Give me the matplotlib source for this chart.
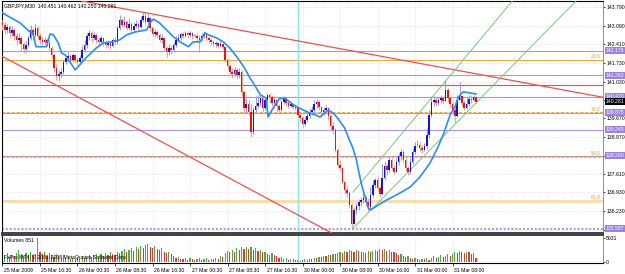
import numpy as np
import matplotlib
matplotlib.use('Agg')
import matplotlib.pyplot as plt
import matplotlib.transforms as mtransforms

plt.rcParams['font.family'] = ['Liberation Sans', 'DejaVu Sans']
FS = 3.7
plt.rcParams['font.size'] = FS

# GBPJPY M30 candles
open_ = [143.24, 143.12, 142.94, 143.05, 142.83, 142.94, 142.72, 142.57, 142.64, 142.42,
         142.24, 142.39, 142.64, 142.94, 142.76, 143.01, 142.72, 142.57, 142.50, 142.57,
         142.46, 142.27, 142.02, 141.53, 141.24, 141.31, 141.39, 141.76, 141.90, 141.98,
         141.83, 142.02, 141.83, 141.76, 141.90, 142.20, 142.39, 142.72, 142.83, 142.64,
         142.76, 142.57, 142.50, 142.64, 142.50, 142.39, 142.46, 142.35, 142.57, 142.50,
         143.01, 143.31, 143.12, 143.24, 143.01, 143.16, 142.94, 143.09, 143.16, 143.05,
         143.31, 143.46, 143.24, 143.38, 143.01, 142.79, 142.87, 142.76, 142.57, 142.64,
         142.27, 142.13, 142.27, 142.20, 142.39, 142.57, 142.64, 142.79, 142.72, 142.83,
         142.76, 142.83, 142.72, 142.72, 142.64, 142.57, 142.72, 142.79, 142.64, 142.57,
         142.50, 142.42, 142.46, 142.35, 142.42, 142.31, 141.83, 141.61, 141.39, 141.31,
         141.46, 141.28, 141.39, 140.65, 140.05, 140.20, 139.91, 139.17, 139.98, 140.13,
         140.24, 140.42, 140.05, 140.35, 140.54, 140.46, 140.24, 140.35, 140.13, 139.98,
         140.28, 140.42, 140.24, 140.13, 140.20, 140.09, 140.05, 139.80, 139.68, 139.46,
         139.61, 139.76, 139.91, 139.98, 140.20, 140.28, 140.09, 139.91, 139.98, 140.05,
         139.76, 139.39, 139.24, 138.50, 137.95, 137.83, 137.32, 137.02, 136.91, 136.47,
         135.76, 136.28, 136.43, 136.58, 136.65, 136.72, 136.58, 136.39, 136.84, 137.21,
         137.39, 137.09, 136.87, 137.46, 137.91, 137.76, 138.13, 137.83, 137.69, 138.06,
         138.28, 138.43, 138.13, 137.83, 137.69, 138.06, 138.43, 138.69, 138.69, 138.57,
         138.50, 138.65, 139.06, 139.80, 140.28, 140.35, 140.24, 140.35, 140.42, 140.31,
         140.72, 140.42, 140.20, 139.98, 139.76, 140.35, 140.50, 140.24, 140.05, 140.20,
         140.39, 140.35, 140.451]
high = [143.31, 143.24, 143.16, 143.12, 143.09, 143.01, 142.83, 142.83, 142.72, 142.50,
        142.53, 142.76, 143.12, 143.01, 143.16, 143.09, 142.83, 142.68, 142.68, 142.64,
        142.57, 142.35, 142.09, 141.68, 141.46, 141.53, 141.83, 142.02, 142.13, 142.05,
        142.09, 142.02, 141.90, 142.02, 142.35, 142.57, 142.83, 142.94, 142.90, 142.87,
        142.83, 142.68, 142.76, 142.68, 142.57, 142.57, 142.53, 142.64, 142.68, 143.12,
        143.50, 143.38, 143.46, 143.31, 143.38, 143.24, 143.24, 143.31, 143.24, 143.46,
        143.61, 143.57, 143.53, 143.42, 143.05, 142.98, 142.94, 142.83, 142.79, 142.68,
        142.35, 142.42, 142.39, 142.50, 142.72, 142.79, 142.87, 142.87, 142.90, 142.90,
        142.90, 142.87, 142.79, 142.83, 142.76, 142.83, 142.90, 142.87, 142.72, 142.64,
        142.57, 142.53, 142.50, 142.53, 142.46, 142.35, 141.90, 141.68, 141.53, 141.57,
        141.53, 141.53, 141.46, 140.72, 140.42, 140.35, 140.24, 140.09, 140.50, 140.54,
        140.61, 140.42, 140.46, 140.61, 140.61, 140.54, 140.50, 140.35, 140.20, 140.35,
        140.50, 140.46, 140.31, 140.31, 140.24, 140.20, 140.09, 139.87, 139.76, 139.72,
        139.91, 140.05, 140.13, 140.35, 140.39, 140.35, 140.13, 140.09, 140.17, 140.05,
        139.83, 139.54, 139.31, 138.57, 138.13, 137.83, 137.35, 137.17, 136.98, 136.54,
        136.39, 136.54, 136.69, 136.76, 136.91, 136.84, 136.72, 137.13, 137.39, 137.46,
        137.50, 137.17, 137.98, 138.06, 137.98, 138.24, 138.20, 137.95, 138.20, 138.39,
        138.54, 138.50, 138.20, 137.91, 138.20, 138.57, 138.80, 138.87, 138.80, 138.69,
        138.76, 139.31, 139.98, 140.50, 140.50, 140.46, 140.46, 140.54, 140.50, 141.09,
        140.79, 140.50, 140.28, 140.13, 140.54, 141.02, 140.54, 140.35, 140.50, 140.54,
        140.54, 140.54, 140.462]
low = [142.94, 142.79, 142.83, 142.64, 142.72, 142.57, 142.39, 142.46, 142.20, 142.09,
       142.13, 142.31, 142.57, 142.57, 142.68, 142.57, 142.42, 142.39, 142.42, 142.35,
       142.20, 141.90, 141.39, 141.09, 141.05, 141.16, 141.31, 141.68, 141.76, 141.72,
       141.76, 141.72, 141.65, 141.68, 141.83, 142.13, 142.27, 142.57, 142.50, 142.57,
       142.46, 142.39, 142.42, 142.35, 142.27, 142.31, 142.24, 142.31, 142.39, 142.42,
       142.94, 143.01, 143.05, 142.94, 142.94, 142.83, 142.87, 143.01, 142.94, 143.01,
       143.24, 143.12, 143.16, 142.90, 142.72, 142.68, 142.64, 142.50, 142.46, 142.20,
       141.94, 142.02, 142.05, 142.13, 142.31, 142.50, 142.57, 142.64, 142.68, 142.64,
       142.68, 142.61, 142.64, 142.50, 142.13, 142.53, 142.64, 142.53, 142.46, 142.39,
       142.35, 142.31, 142.27, 142.31, 142.24, 141.76, 141.46, 141.31, 141.16, 141.24,
       141.13, 141.16, 140.50, 139.87, 139.87, 139.80, 138.98, 139.09, 139.91, 140.05,
       140.13, 139.91, 139.98, 140.28, 140.24, 140.13, 140.05, 139.91, 139.87, 139.94,
       140.20, 140.13, 140.05, 140.09, 140.02, 139.98, 139.72, 139.54, 139.35, 139.39,
       139.54, 139.68, 139.83, 139.91, 140.05, 139.98, 139.76, 139.80, 139.87, 139.61,
       139.24, 139.09, 138.43, 137.83, 137.72, 137.24, 136.87, 136.76, 136.35, 135.60,
       135.76, 136.13, 136.28, 136.43, 136.54, 136.43, 136.21, 136.32, 136.76, 137.09,
       137.02, 136.76, 136.84, 137.39, 137.58, 137.69, 137.76, 137.61, 137.69, 137.95,
       138.13, 138.02, 137.72, 137.58, 137.61, 137.98, 138.35, 138.61, 138.46, 138.39,
       138.46, 138.54, 138.94, 139.72, 140.13, 140.13, 140.17, 140.24, 140.20, 140.31,
       140.28, 140.05, 139.87, 139.50, 139.72, 140.35, 140.13, 139.98, 140.02, 140.13,
       140.24, 140.31, 140.250]
close = [143.12, 142.94, 143.05, 142.83, 142.94, 142.72, 142.57, 142.64, 142.42, 142.24,
         142.39, 142.64, 142.94, 142.76, 143.01, 142.72, 142.57, 142.50, 142.57, 142.46,
         142.27, 142.02, 141.53, 141.24, 141.31, 141.39, 141.76, 141.90, 141.98, 141.83,
         142.02, 141.83, 141.76, 141.90, 142.20, 142.39, 142.72, 142.83, 142.64, 142.76,
         142.57, 142.50, 142.64, 142.50, 142.39, 142.46, 142.35, 142.57, 142.50, 143.01,
         143.31, 143.12, 143.24, 143.01, 143.16, 142.94, 143.09, 143.16, 143.05, 143.31,
         143.46, 143.24, 143.38, 143.01, 142.79, 142.87, 142.76, 142.57, 142.64, 142.27,
         142.13, 142.27, 142.20, 142.39, 142.57, 142.64, 142.79, 142.72, 142.83, 142.76,
         142.83, 142.72, 142.72, 142.64, 142.57, 142.72, 142.79, 142.64, 142.57, 142.50,
         142.42, 142.46, 142.35, 142.42, 142.31, 141.83, 141.61, 141.39, 141.31, 141.46,
         141.28, 141.39, 140.65, 140.05, 140.20, 139.91, 139.17, 139.98, 140.13, 140.24,
         140.42, 140.05, 140.35, 140.54, 140.46, 140.24, 140.35, 140.13, 139.98, 140.28,
         140.42, 140.24, 140.13, 140.20, 140.09, 140.05, 139.80, 139.68, 139.46, 139.61,
         139.76, 139.91, 139.98, 140.20, 140.28, 140.09, 139.91, 139.98, 140.05, 139.76,
         139.39, 139.24, 138.50, 137.95, 137.83, 137.32, 137.02, 136.91, 136.47, 135.76,
         136.28, 136.43, 136.58, 136.65, 136.72, 136.58, 136.39, 136.84, 137.21, 137.39,
         137.09, 136.87, 137.46, 137.91, 137.76, 138.13, 137.83, 137.69, 138.06, 138.28,
         138.43, 138.13, 137.83, 137.69, 138.06, 138.43, 138.65, 138.69, 138.57, 138.50,
         138.65, 139.06, 139.80, 140.28, 140.35, 140.24, 140.35, 140.42, 140.31, 140.72,
         140.42, 140.20, 139.98, 139.76, 140.35, 140.50, 140.24, 140.05, 140.20, 140.39,
         140.35, 140.451, 140.281]
volume = [900, 1400, 1800, 1100, 1500, 1200, 1900, 2500, 1600, 1300,
          1800, 1500, 2100, 1400, 1700, 5031, 2200, 1600, 2000, 1300,
          1800, 1400, 1000, 1700, 1200, 900, 1500, 800, 1100, 700,
          900, 600, 1000, 700, 1200, 800, 1100, 1500, 1000, 1400,
          1700, 1100, 1600, 1300, 1800, 1500, 2000, 1600, 1400, 2100,
          1900, 2300, 2700, 2200, 2600, 2900, 2400, 3100, 2700, 3300,
          3000, 3500, 3800, 3200, 3000, 3400, 2800, 2500, 2900, 2100,
          1900, 2200, 1600, 1300, 900, 1100, 700, 600, 900, 500,
          800, 600, 400, 700, 900, 500, 600, 800, 400, 700,
          600, 900, 700, 1300, 1100, 1800, 2400, 2000, 2600, 2200,
          2900, 2500, 3100, 2700, 3200, 2800, 3100, 2600, 2900, 2300,
          2500, 2000, 2200, 1700, 1500, 1900, 1400, 1200, 900, 1000,
          700, 800, 500, 700, 600, 400, 500, 300, 400, 600,
          500, 700, 600, 900, 800, 1100, 1000, 1300, 1200, 1500,
          1400, 1700, 1600, 1900, 2100, 1800, 2300, 2100, 2500, 2400,
          2200, 2600, 2300, 2000, 2200, 1900, 2400, 2100, 2300, 2600,
          2400, 2800, 2500, 2700, 2300, 2600, 2200, 2000, 1800, 1500,
          1700, 1300, 1000, 1200, 900, 700, 800, 600, 500, 700,
          600, 800, 500, 900, 1200, 800, 1100, 1400, 1000, 1300,
          1600, 1200, 1700, 2100, 1900, 2300, 2000, 1800, 2100, 2000,
          1700, 1900, 851]

# moving average (traced)
ma_bar = [0, 3, 7.5, 11.5, 13, 14.3, 18.8, 20.3, 21.7, 23.8, 25.2, 26.7, 28.8, 31, 33,
          36, 40, 43, 47, 50, 53, 57, 61.5, 63, 64.4, 67, 70, 73, 76.5, 79.3,
          81.4, 84.3, 86.4, 87.8, 91.4, 94.2, 97, 100, 103, 105.6, 107, 110, 112.5, 113.3, 115,
          118, 120.5, 123, 125.6, 130, 135.5, 139, 141, 143, 146, 148, 149.5, 151, 153, 154.7,
          156.1, 157, 158.2, 163.9, 169.6, 173.9, 178.1, 182.4, 185.8, 188, 191, 193, 194.5, 196.5,
          199.5, 202]
ma_val = [143.57, 143.42, 143.20, 142.88, 142.83, 142.32, 142.32, 142.79, 142.76, 142.46,
          142.09, 142.02, 141.76, 141.46, 141.65, 141.94, 142.27, 142.46, 142.50, 142.57,
          142.76, 142.87, 142.94, 143.20, 143.34, 143.20, 142.94, 142.68, 142.46, 142.32,
          142.50, 142.50, 142.83, 142.76, 142.64, 142.50, 142.27, 141.94, 141.57, 141.16,
          140.98, 140.54, 140.42, 139.72, 139.98, 140.39, 140.42, 140.24, 140.09, 139.91,
          139.72, 139.98, 139.87, 139.68, 139.31, 138.87, 138.57, 138.13, 137.28, 136.76,
          136.35, 136.28, 136.35, 136.65, 136.91, 137.13, 137.50, 138.02, 138.61, 139.06,
          139.80, 140.09, 140.46, 140.65, 140.61, 140.57]

date_pos = [0, 16, 32, 48, 64, 80, 96, 112, 128, 144, 160, 176, 192]
date_labels = ['25 Mar 2009', '25 Mar 16:30', '26 Mar 00:30', '26 Mar 08:30', '26 Mar 16:30',
               '27 Mar 00:30', '27 Mar 08:30', '27 Mar 16:30', '30 Mar 00:00', '30 Mar 08:00',
               '30 Mar 16:00', '31 Mar 00:00', '31 Mar 08:00']
price_ticks = [143.790, 143.090, 142.410, 141.730, 141.030, 140.350, 139.670,
               138.970, 138.290, 137.610, 136.930, 136.230, 135.550]
hidden_ticks = [140.350, 138.290]   # covered by the marker labels in the screenshot

purple_levels = [142.176, 141.262, 140.470, 139.875, 139.245, 138.290]
purple_dotted = 135.587
red_level = 140.91
fib_levels = [141.83, 139.86, 138.24, 136.63]
fib_names = ['23.6', '38.2', '50.0', '61.8']
label_levels = [142.176, 141.262, 140.470, 139.875, 139.245, 138.290, 135.587]
last_price = 140.281

# trend lines as (bar, price) anchor pairs
red_upper = [(37, 143.96), (200, 141.35)]
red_lower = [(0, 141.96), (120, 136.38)]
green_lower = [(149.6, 135.61), (190, 139.18)]
green_upper = [(149.6, 136.95), (185, 140.63)]
cyan_bar = 126

W, H = 625, 274
fig = plt.figure(figsize=(W / 100, H / 100), dpi=100, facecolor='white')
ax = fig.add_axes([2 / W, 1 - 233 / H, 601 / W, 232 / H])
axv = fig.add_axes([2 / W, 1 - 263 / H, 601 / W, 28 / H])

xlim = (-0.21, 256.2)
bars = np.arange(len(close))
o = np.array(open_); c = np.array(close); hi = np.array(high); lo = np.array(low)

# grid
for a in (ax, axv):
    a.set_xlim(*xlim)
    a.set_xticks(date_pos)
    a.grid(True, color='#d0d0da', linestyle=(0, (1, 2)), linewidth=0.5)
    a.set_axisbelow(True)
ax.set_ylim(135.43, 144.01)
ax.set_yticks(price_ticks)
ax.set_yticklabels(['' if v in hidden_ticks else f'{v:.3f}' for v in price_ticks])

# levels
for p in purple_levels:
    ax.axhline(p, color='#a894f0', lw=0.8, zorder=1)
ax.axhline(purple_dotted, color='#a894f0', lw=1.4, ls=(0, (1, 1)), zorder=1)
ax.axhline(red_level, color='#f04848', lw=0.8, zorder=1)
fib_style = [dict(color='#f0a838', lw=0.8, ls='-'),
             dict(color='#f0a040', lw=1.4, ls=(0, (1.5, 1))),
             dict(color='#ec9a40', lw=1.1, ls=(0, (2, 1))),
             dict(color='#f8dba8', lw=2.0, ls='-')]
trans = mtransforms.blended_transform_factory(ax.transAxes, ax.transData)
for p, name, st in zip(fib_levels, fib_names, fib_style):
    ax.axhline(p, zorder=1, **st)
    ax.text(0.996, p + 0.03, name, transform=trans, ha='right', va='bottom',
            color='#e8a040', fontsize=FS)

ax.axvline(cyan_bar, color='#88e4f0', lw=1.0, zorder=1)
axv.axvline(cyan_bar, color='#88e4f0', lw=1.0, zorder=1)

# trend lines
ax.axline(red_upper[0], red_upper[1], color='#f05050', lw=0.9, zorder=3)
ax.axline(red_lower[0], red_lower[1], color='#f05050', lw=0.9, zorder=3)
for (b0, p0), (b1, p1) in (green_lower, green_upper):
    k = (p1 - p0) / (b1 - b0)
    ax.plot([b0, xlim[1]], [p0, p0 + k * (xlim[1] - b0)], color='#78c878', lw=0.7, zorder=3)

# candles
up = c > o
down = c < o
body = np.where(up, '#1010f0', np.where(down, '#f01010', '#20c020'))
wick = np.where(up, '#9a9af0', np.where(down, '#f4a088', '#80d880'))
ax.vlines(bars, lo, hi, colors=wick, lw=0.75, zorder=4)
ax.bar(bars, np.maximum(np.abs(c - o), 0.015), bottom=np.minimum(o, c), width=0.65,
       color=body, lw=0, zorder=5)

ax.plot(ma_bar, ma_val, color='#2a8ff0', lw=1.2, zorder=6)

# right-hand price scale
ax.yaxis.tick_right()
ax.tick_params(axis='y', direction='out', length=1.5, width=0.5, pad=0.8, labelsize=FS)
ax.tick_params(axis='x', length=0, labelbottom=False)
for p in label_levels:
    ax.text(1.0045, p, f'{p:.3f}', transform=trans, ha='left', va='center', color='white',
            fontsize=FS, clip_on=False, zorder=10,
            bbox=dict(boxstyle='square,pad=0.2', fc='#9a82e2', ec='none'))
ax.text(1.0045, last_price, f'{last_price:.3f}', transform=trans, ha='left', va='center',
        color='white', fontsize=FS, clip_on=False, zorder=11,
        bbox=dict(boxstyle='square,pad=0.2', fc='black', ec='none'))

ax.text(0.004, 0.99, 'GBPJPY,M30  140.451 140.462 140.250 140.281', transform=ax.transAxes,
        ha='left', va='top', fontsize=FS, color='black')

for s in ('left', 'top'):
    ax.spines[s].set_linewidth(0.8)
ax.spines['bottom'].set_linewidth(1.4)
ax.spines['bottom'].set_color('#404040')
ax.spines['right'].set_color('#808080')
ax.spines['right'].set_linewidth(0.6)

# volume panel
vcol = ['#40b040'] + ['#40b040' if volume[i] > volume[i - 1] else '#f03030'
                      for i in range(1, len(volume))]
axv.bar(bars, volume, width=0.5, color=vcol, lw=0)
axv.set_ylim(-210, 5660)
axv.yaxis.tick_right()
axv.set_yticks([0, 5031])
axv.set_yticklabels(['0', '5031'])
axv.tick_params(axis='y', direction='out', length=1.5, width=0.5, pad=0.8, labelsize=FS)
axv.set_xticklabels(date_labels, ha='left')
axv.tick_params(axis='x', direction='out', length=2.5, width=0.5, pad=1, labelsize=FS)
shift = mtransforms.ScaledTranslation(1.5 / 100, 0, fig.dpi_scale_trans)
for lbl in axv.get_xticklabels():
    lbl.set_transform(lbl.get_transform() + shift)
axv.grid(False, axis='y')
axv.spines['top'].set_linewidth(1.4)
axv.spines['top'].set_color('#404040')
axv.spines['right'].set_color('#808080')
axv.spines['right'].set_linewidth(0.6)
axv.text(0.004, 0.88, 'Volumes 851', transform=axv.transAxes, ha='left', va='top', fontsize=FS)
axv.text(0.004, 0.2, 'FxPro MT4, \u00a9 2001-2008 MetaQuotes Software Corp.', transform=axv.transAxes,
         ha='left', va='center', fontsize=FS)

fig.savefig('out.png', dpi=100, facecolor='white')
